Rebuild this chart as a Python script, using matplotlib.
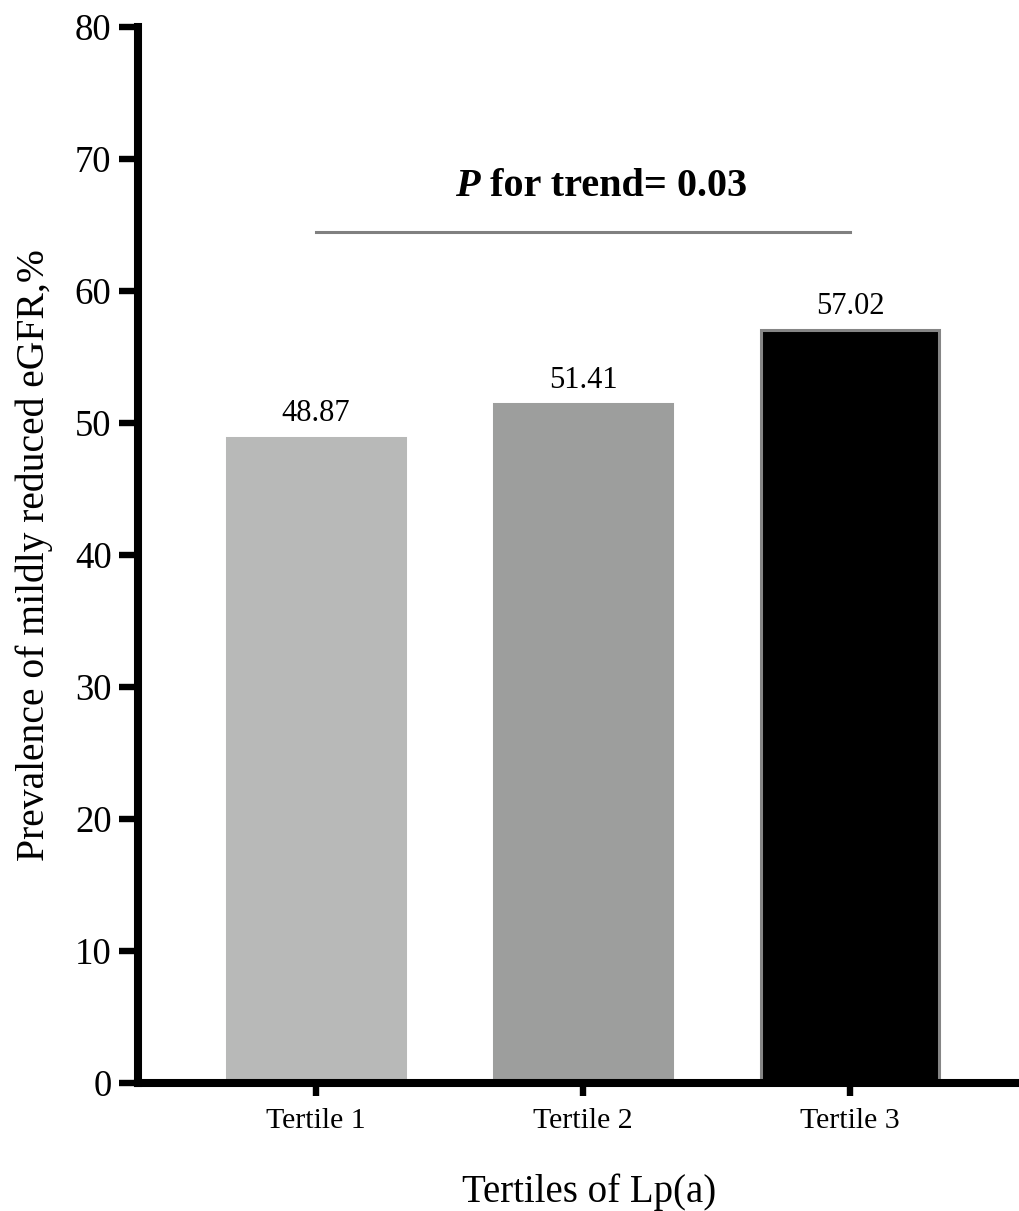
import numpy as np
import matplotlib
matplotlib.use('Agg')
import matplotlib.pyplot as plt

plt.rcParams['font.family'] = 'Liberation Serif'

categories = ['Tertile 1', 'Tertile 2', 'Tertile 3']
prevalence = [48.87, 51.41, 57.02]
bar_colors = ['#b8b9b8', '#9d9e9d', '#000000']
edge_colors = ['#b8b9b8', '#9d9e9d', '#858585']
y_ticks = np.arange(0, 81, 10)
trend_text = ' for trend= 0.03'
trend_level = 64.5

fig = plt.figure(figsize=(10.19, 12.11), dpi=100)
ax = fig.add_axes([0.1354, 0.1057, 1 - 0.1354, 0.9777 - 0.1057])

x = np.arange(len(categories))
bars = ax.bar(x, prevalence, width=0.665, color=bar_colors,
              edgecolor=edge_colors, linewidth=2.2, zorder=2)

for xi, v in zip(x, prevalence):
    ax.annotate(f"{v:.2f}", xy=(xi, v), xytext=(0, 12), textcoords='offset points',
                ha='center', va='baseline', fontsize=22)

# trend line + annotation
ax.plot([x[0], x[-1]], [trend_level, trend_level], color='#808080', lw=2.2, zorder=1)
tp = ax.text(0.52, 67.2, 'P', fontsize=29, fontweight='bold', style='italic',
             ha='left', va='baseline')
ax.annotate(trend_text, xy=(1, 0), xycoords=tp, fontsize=29, fontweight='bold',
            ha='left', va='bottom')

ax.set_xlim(-0.667, 2.633)
ax.set_ylim(0, 80)
ax.set_yticks(y_ticks)
ax.set_xticks(x)
ax.set_xticklabels(categories)

for side in ['top', 'right']:
    ax.spines[side].set_visible(False)
for side in ['left', 'bottom']:
    ax.spines[side].set_linewidth(5.8)
    ax.spines[side].set_capstyle('projecting')

ax.tick_params(axis='y', direction='out', length=14, width=4.6, labelsize=26.5, pad=5)
ax.tick_params(axis='x', direction='out', length=9, width=4.6, labelsize=21.5, pad=9)

ax.set_ylabel('Prevalence of mildly reduced eGFR,%', fontsize=28.5, labelpad=16)
ax.set_xlabel('Tertiles of Lp(a)', fontsize=28)
ax.xaxis.set_label_coords(0.512, -0.086)

fig.savefig('out.png', dpi=100)
